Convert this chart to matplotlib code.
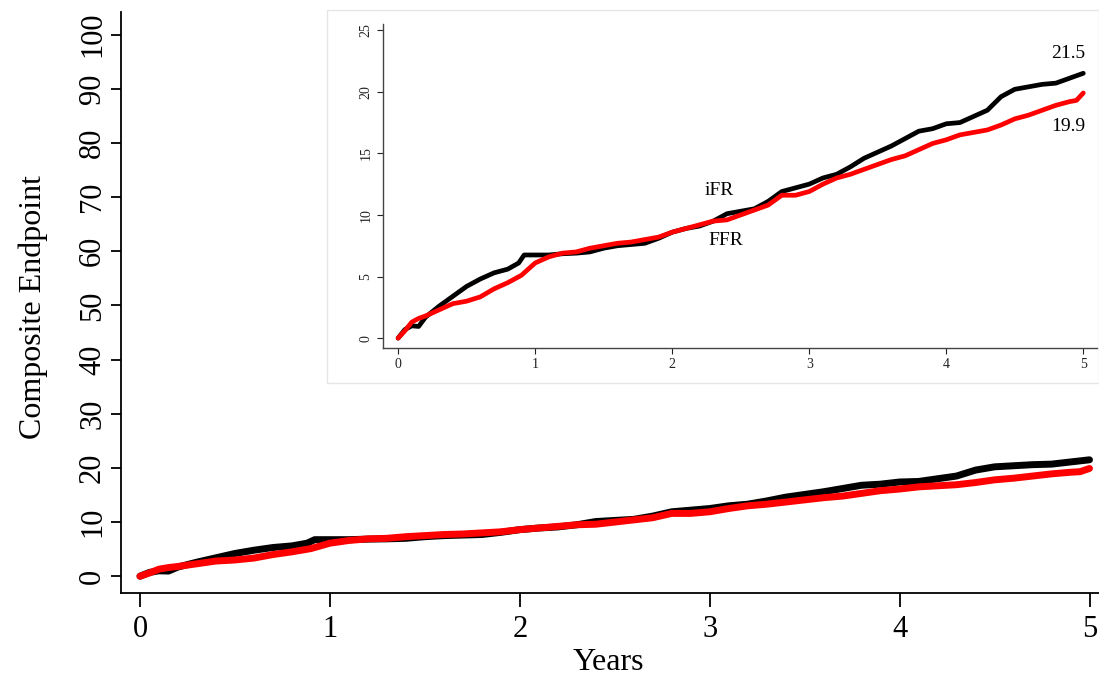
import numpy as np
import matplotlib
matplotlib.use('Agg')
import matplotlib.pyplot as plt
from matplotlib.patches import Rectangle

plt.rcParams['font.family'] = ['Liberation Serif', 'DejaVu Serif']

# cumulative composite endpoint (%) by years
ifr_x = [0, 0.05, 0.1, 0.15, 0.2, 0.3, 0.4, 0.5, 0.6, 0.7, 0.8, 0.88, 0.92, 1.0, 1.1,
         1.2, 1.3, 1.4, 1.5, 1.6, 1.7, 1.8, 1.9, 2.0, 2.1, 2.2, 2.3, 2.4, 2.5, 2.6,
         2.7, 2.8, 2.9, 3.0, 3.1, 3.2, 3.3, 3.4, 3.5, 3.6, 3.7, 3.8, 3.9, 4.0, 4.1,
         4.2, 4.3, 4.4, 4.5, 4.6, 4.7, 4.8, 4.9, 5.0]
ifr_y = [0, 0.7, 1.0, 0.95, 1.7, 2.6, 3.4, 4.2, 4.8, 5.3, 5.6, 6.1, 6.75, 6.75, 6.75,
         6.85, 6.9, 7.0, 7.3, 7.5, 7.6, 7.7, 8.1, 8.6, 8.9, 9.1, 9.5, 10.1, 10.3, 10.5,
         11.1, 11.9, 12.2, 12.5, 13.0, 13.3, 13.9, 14.6, 15.1, 15.6, 16.2, 16.8, 17.0, 17.4, 17.5,
         18.0, 18.5, 19.6, 20.2, 20.4, 20.6, 20.7, 21.1, 21.5]

ffr_x = [0, 0.05, 0.1, 0.15, 0.2, 0.3, 0.4, 0.5, 0.6, 0.7, 0.8, 0.9, 1.0, 1.1, 1.2,
         1.3, 1.4, 1.5, 1.6, 1.7, 1.8, 1.9, 2.0, 2.1, 2.2, 2.3, 2.4, 2.5, 2.6, 2.7,
         2.8, 2.9, 3.0, 3.1, 3.2, 3.3, 3.4, 3.5, 3.6, 3.7, 3.8, 3.9, 4.0, 4.1, 4.2,
         4.3, 4.4, 4.5, 4.6, 4.7, 4.8, 4.9, 4.95, 5.0]
ffr_y = [0, 0.6, 1.3, 1.6, 1.8, 2.3, 2.8, 3.0, 3.35, 4.0, 4.5, 5.1, 6.1, 6.6, 6.9,
         7.0, 7.3, 7.5, 7.7, 7.8, 8.0, 8.2, 8.6, 8.9, 9.2, 9.5, 9.6, 10.0, 10.4, 10.8,
         11.6, 11.6, 11.9, 12.5, 13.0, 13.3, 13.7, 14.1, 14.5, 14.8, 15.3, 15.8, 16.1, 16.5, 16.7,
         16.9, 17.3, 17.8, 18.1, 18.5, 18.9, 19.2, 19.3, 19.9]

x_ticks = [0, 1, 2, 3, 4, 5]
main_y_ticks = list(range(0, 101, 10))
inset_y_ticks = [0, 5, 10, 15, 20, 25]

W, H = 1099, 677
fig = plt.figure(figsize=(W / 100, H / 100), dpi=100)

# main axes
ax = fig.add_axes([121 / W, 1 - 593 / H, (1099 - 121) / W, (593 - 12) / H])
ax.plot(ifr_x, ifr_y, color='black', lw=5.0, solid_capstyle='round')
ax.plot(ffr_x, ffr_y, color='red', lw=5.0, solid_capstyle='round')
ax.set_xlim(-0.1, 5.05)
ax.set_ylim(-3.1, 104.2)
ax.set_xticks(x_ticks)
ax.set_yticks(main_y_ticks)
for s in ['top', 'right']:
    ax.spines[s].set_visible(False)
for s in ['left', 'bottom']:
    ax.spines[s].set_linewidth(1.3)
ax.tick_params(axis='x', length=10, width=1.3, labelsize=22, pad=6)
ax.tick_params(axis='y', length=7, width=1.3, labelsize=22, pad=3)
for lbl in ax.get_yticklabels():
    lbl.set_rotation(90)
    lbl.set_va('center')
fig.text(33 / W, 1 - 307 / H, 'Composite Endpoint', rotation=90,
         ha='center', va='center', fontsize=23)
fig.text(608 / W, 1 - 663 / H, 'Years', ha='center', va='center', fontsize=23)

# inset frame
fig.patches.append(Rectangle((327 / W, 1 - 383 / H), (W - 327) / W, (383 - 10) / H,
                             transform=fig.transFigure, facecolor='white',
                             edgecolor='#e6e6e6', lw=1.0, zorder=2))

ins = fig.add_axes([383 / W, 1 - 348 / H, (1097 - 383) / W, (348 - 24) / H], zorder=3)
ins.plot(ifr_x, ifr_y, color='black', lw=3.4, solid_capstyle='round')
ins.plot(ffr_x, ffr_y, color='red', lw=3.4, solid_capstyle='round')
ins.set_xlim(-0.11, 5.1)
ins.set_ylim(-0.8, 25.5)
ins.set_xticks(x_ticks)
ins.set_yticks(inset_y_ticks)
for s in ['top', 'right']:
    ins.spines[s].set_visible(False)
for s in ['left', 'bottom']:
    ins.spines[s].set_linewidth(1.0)
    ins.spines[s].set_color('#444444')
ins.tick_params(length=4, width=0.8, labelsize=10, colors='#222222')
for lbl in ins.get_yticklabels():
    lbl.set_rotation(90)
    lbl.set_va('center')
ins.text(2.34, 12.0, 'iFR', ha='center', va='center', fontsize=14)
ins.text(2.39, 7.95, 'FFR', ha='center', va='center', fontsize=14)
ins.text(4.89, 23.1, '21.5', ha='center', va='center', fontsize=14)
ins.text(4.89, 17.2, '19.9', ha='center', va='center', fontsize=14)

fig.savefig('out.png', dpi=100)
